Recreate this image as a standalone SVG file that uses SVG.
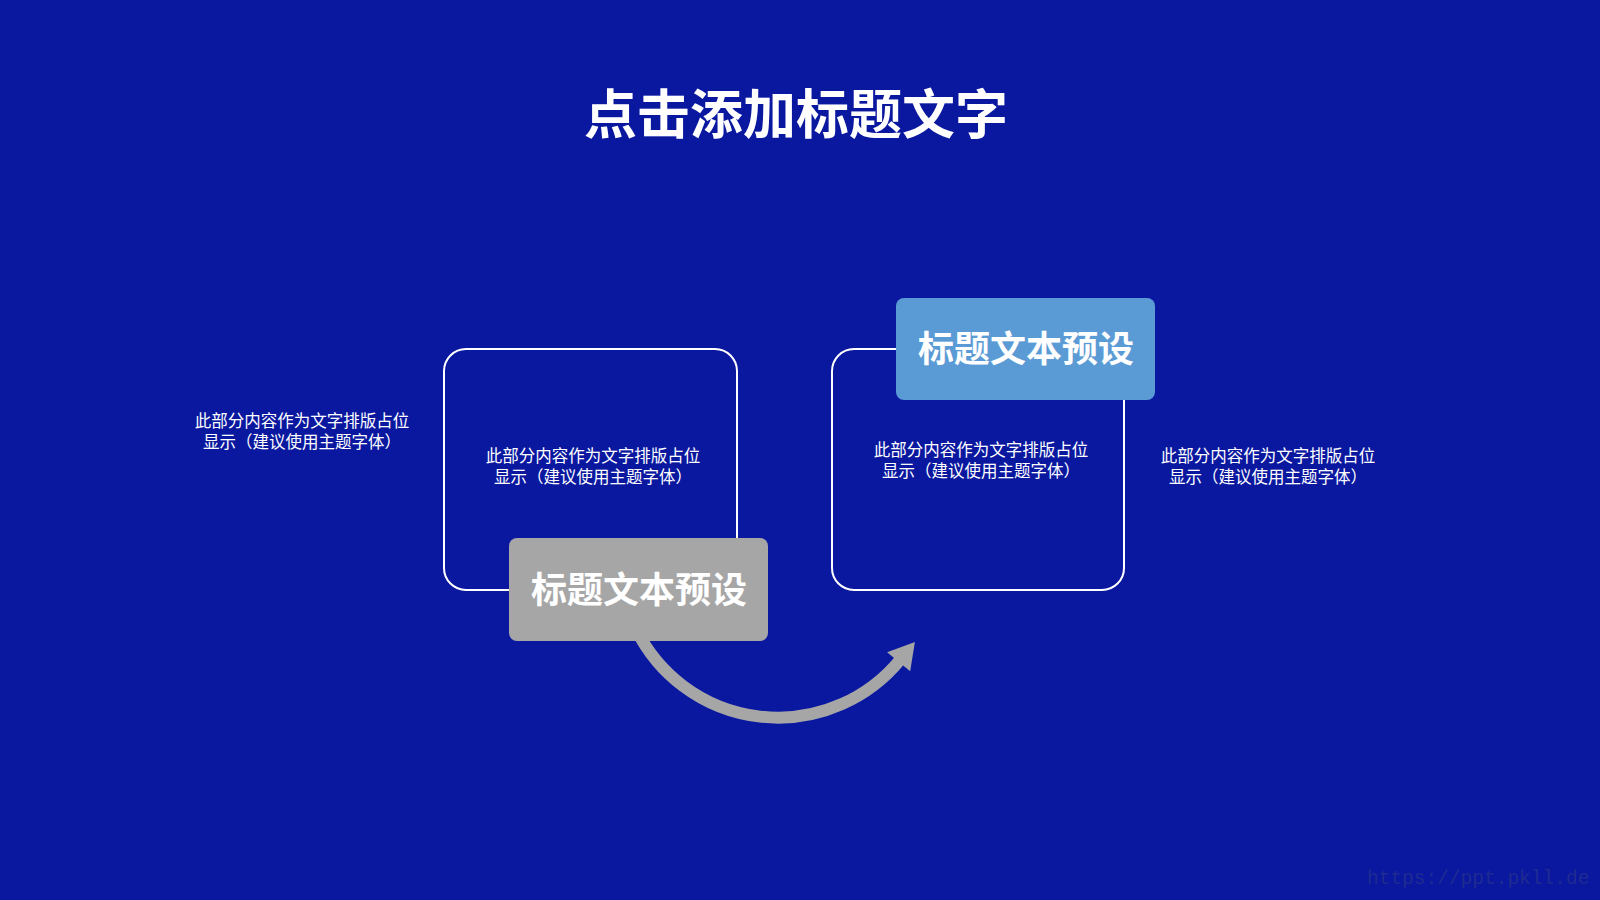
<svg xmlns="http://www.w3.org/2000/svg" width="1600" height="900" viewBox="0 0 1600 900">
<style>
.cjk{font-family:"Noto Sans CJK SC","Noto Sans",sans-serif;}
.title{font-size:53px;font-weight:700;fill:#ffffff;text-anchor:middle;}
.frame{fill:none;stroke:#ffffff;stroke-width:2;}
.tag{font-size:36px;font-weight:700;fill:#ffffff;text-anchor:middle;dominant-baseline:central;}
.body{font-size:16.5px;fill:#ffffff;text-anchor:middle;}
.arc{fill:none;stroke:#a6a6a6;stroke-width:12;}
</style>
<defs>
<marker id="head" markerUnits="userSpaceOnUse" markerWidth="30" markerHeight="32" viewBox="-2 -15 26 30" refX="0" refY="0" orient="auto">
<path d="M-2,-14 L22,0 L-2,14 z" fill="#a6a6a6"/>
</marker>
</defs>
<rect width="1600" height="900" fill="#0a18a0"/>
<text class="cjk title" x="796" y="134">点击添加标题文字</text>
<g id="connectors">
<path class="arc" d="M 636.5 630 A 158 158 0 0 0 900 660" marker-end="url(#head)"/>
</g>
<g id="left-text">
<text class="cjk body" x="302" y="427">此部分内容作为文字排版占位</text>
<text class="cjk body" x="302" y="448">显示（建议使用主题字体）</text>
</g>
<g id="box1">
<rect class="frame" x="444" y="349" width="293" height="241" rx="22"/>
<text class="cjk body" x="593" y="461.5">此部分内容作为文字排版占位</text>
<text class="cjk body" x="593" y="482.5">显示（建议使用主题字体）</text>
</g>
<g id="tag1">
<rect x="509" y="538" width="259" height="103" rx="8" fill="#a6a6a6"/>
<text class="cjk tag" x="639" y="587">标题文本预设</text>
</g>
<g id="box2">
<rect class="frame" x="832" y="349" width="292" height="241" rx="22"/>
<text class="cjk body" x="981" y="455.5">此部分内容作为文字排版占位</text>
<text class="cjk body" x="981" y="476.5">显示（建议使用主题字体）</text>
</g>
<g id="tag2">
<rect x="896" y="298" width="259" height="102" rx="8" fill="#5b9bd5"/>
<text class="cjk tag" x="1026" y="346">标题文本预设</text>
</g>
<g id="right-text">
<text class="cjk body" x="1268" y="461.5">此部分内容作为文字排版占位</text>
<text class="cjk body" x="1268" y="482.5">显示（建议使用主题字体）</text>
</g>
<text x="1367" y="884" font-family="Liberation Mono, monospace" font-size="19.5" fill="#1f2b90">https://ppt.pkll.de</text>
</svg>
